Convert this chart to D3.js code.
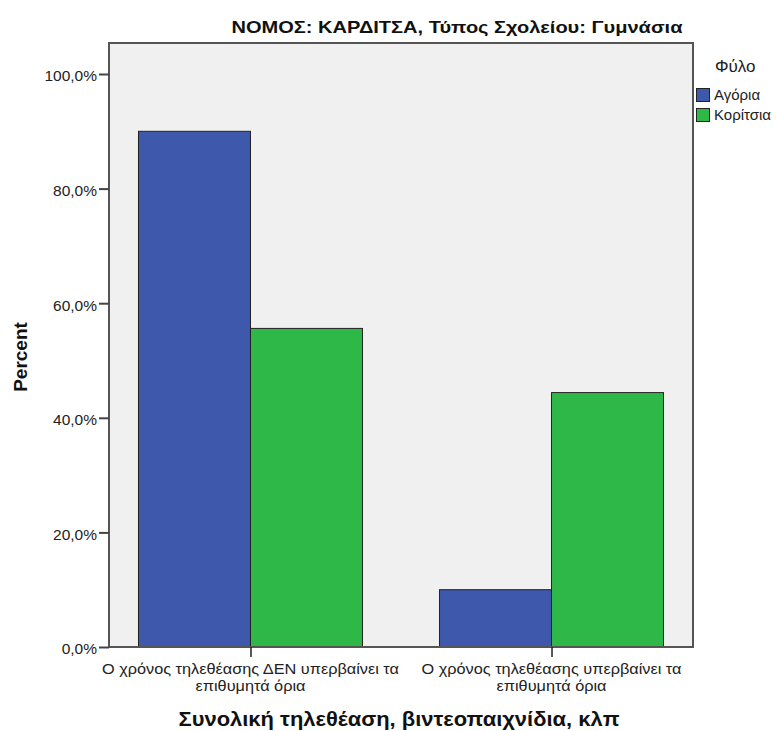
<!DOCTYPE html>
<html><head><meta charset="utf-8">
<script src="https://cdn.jsdelivr.net/npm/d3@7/dist/d3.min.js"></script>
<style>body{margin:0;background:#fff}svg{display:block}text{font-family:Arial,"Liberation Sans",sans-serif}</style>
</head><body>
<svg id="c" width="776" height="731"></svg>
<script>
const categories = [["Ο χρόνος τηλεθέασης ΔΕΝ υπερβαίνει τα","επιθυμητά όρια"],["Ο χρόνος τηλεθέασης υπερβαίνει τα","επιθυμητά όρια"]];
const seriesNames = ["Αγόρια","Κορίτσια"];
const boys = [90.0, 10.0];
const girls = [55.6, 44.4];
const yTicks = [0,20,40,60,80,100];
const colors = ["#3e58ac","#2eb848"];
const title = "ΝΟΜΟΣ: ΚΑΡΔΙΤΣΑ, Τύπος Σχολείου: Γυμνάσια";
const xTitle = "Συνολική τηλεθέαση, βιντεοπαιχνίδια, κλπ";
const yTitle = "Percent";
const legendTitle = "Φύλο";

const svg = d3.select("#c");
const L=109,R=693,T=43,B=647;
const y = d3.scaleLinear().domain([0,100]).range([B,74]);
const x = d3.scalePoint().domain(d3.range(categories.length)).range([L,R]).padding(0.47);
const barW = 112;
const inner = d3.scaleBand().domain([0,1]).range([-barW, barW]);

svg.append("rect").attr("x",L).attr("y",T).attr("width",R-L).attr("height",B-T).attr("fill","#f0f0f0");

const series=[boys,girls];
series.forEach((vals,si)=>{
  svg.append("g").selectAll("rect").data(vals).join("rect")
    .attr("x",(d,i)=>x(i)+inner(si)).attr("width",inner.bandwidth())
    .attr("y",d=>y(d)).attr("height",d=>B-y(d))
    .attr("fill",colors[si]).attr("stroke","#222").attr("stroke-width",1);
});

// frame
svg.append("rect").attr("x",L).attr("y",T).attr("width",R-L).attr("height",B-T).attr("fill","none").attr("stroke","#555").attr("stroke-width",2);

// y axis
const ya = svg.append("g").attr("transform",`translate(${L},0)`)
  .call(d3.axisLeft(y).tickValues(yTicks).tickSize(10).tickPadding(2).tickFormat(d=>d.toFixed(1).replace(".",",")+"%"));
ya.select(".domain").remove();
ya.selectAll("line").attr("stroke","#444").attr("stroke-width",2);
ya.selectAll("text").attr("font-size",15.5).attr("fill","#222").attr("dy","0.45em").attr("font-family","Arial,'Liberation Sans',sans-serif");

// x axis
const xa = svg.append("g").attr("transform",`translate(0,${B})`)
  .call(d3.axisBottom(x).tickSize(10).tickFormat(""));
xa.select(".domain").remove();
xa.selectAll("line").attr("stroke","#222").attr("stroke-width",1.5);
let stretch = null;
categories.forEach((lines,i)=>{
  const t = svg.append("text").attr("x",x(i)).attr("text-anchor","middle").attr("font-size",14.5).attr("fill","#222");
  lines.forEach((ln,k)=>{
    const ts = t.append("tspan").attr("x",x(i)).attr("y",674+k*17).text(ln);
    const w = ts.node().getComputedTextLength();
    if (stretch === null) stretch = 297 / w;
    ts.attr("textLength", w*stretch).attr("lengthAdjust","spacingAndGlyphs");
  });
});

svg.append("text").attr("x",399).attr("y",726).attr("text-anchor","middle").attr("font-size",19.5).attr("font-weight","bold").attr("fill","#111").attr("textLength",441).attr("lengthAdjust","spacingAndGlyphs").text(xTitle);
svg.append("text").attr("transform",`translate(27,${(T+B)/2+12}) rotate(-90)`).attr("text-anchor","middle").attr("font-size",19).attr("font-weight","bold").attr("fill","#111").text(yTitle);
svg.append("text").attr("x",457).attr("y",33).attr("text-anchor","middle").attr("font-size",17).attr("font-weight","bold").attr("fill","#111").attr("textLength",451).attr("lengthAdjust","spacingAndGlyphs").text(title);

// legend
svg.append("text").attr("x",715).attr("y",72).attr("font-size",17).attr("fill","#222").text(legendTitle);
seriesNames.forEach((n,i)=>{
  svg.append("rect").attr("x",696.5).attr("y",88.5+i*20).attr("width",13).attr("height",13).attr("fill",colors[i]).attr("stroke","#222");
  svg.append("text").attr("x",714).attr("y",100+i*20).attr("font-size",15).attr("fill","#222").text(n);
});
</script>
</body></html>
